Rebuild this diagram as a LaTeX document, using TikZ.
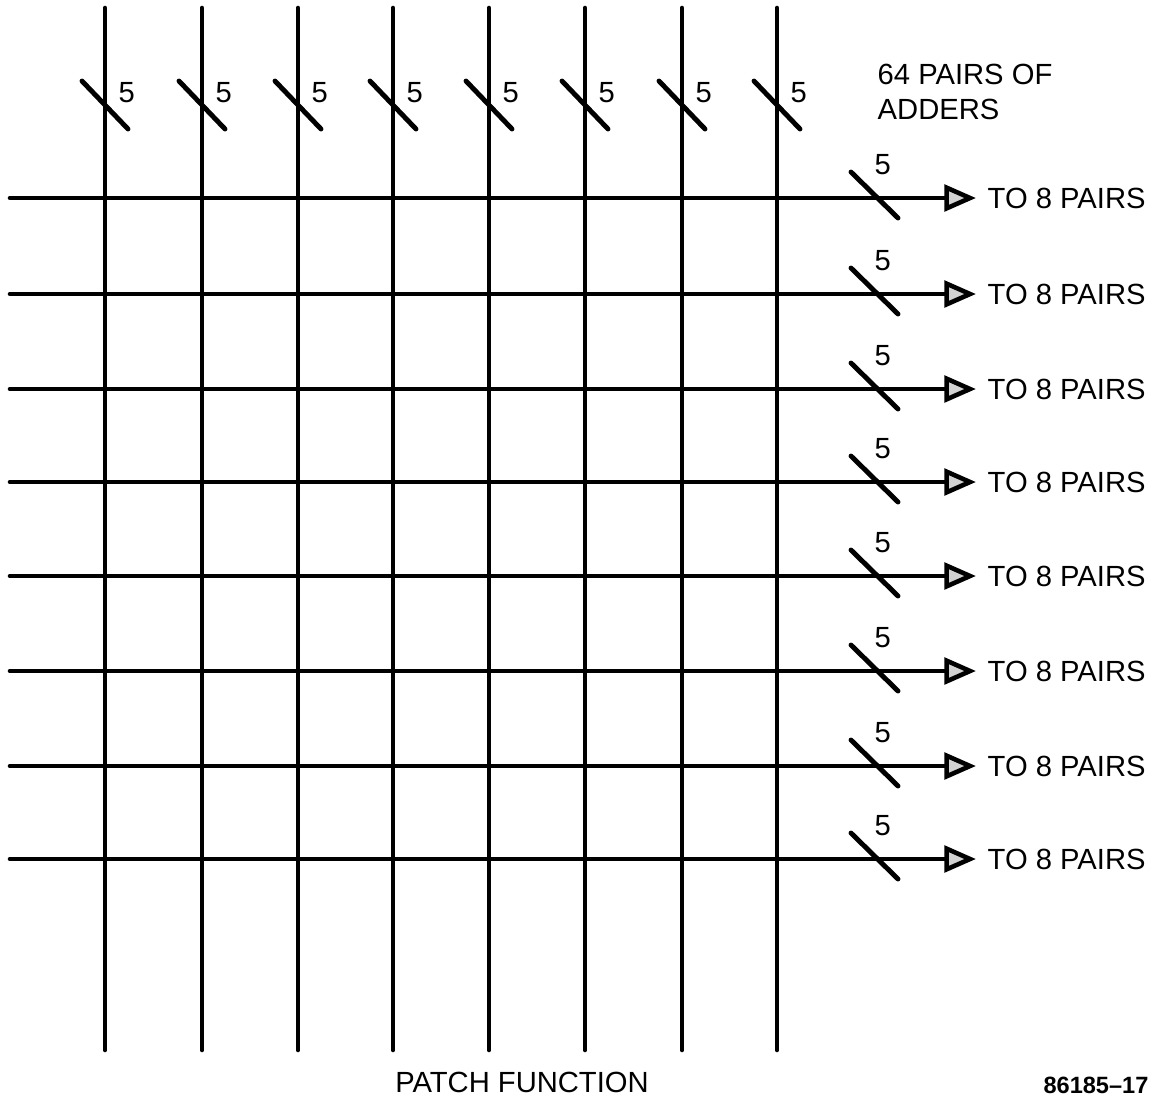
\documentclass[tikz,border=0pt]{standalone}
\usepackage{fontspec}
\setmainfont{Liberation Sans}
\usetikzlibrary{arrows.meta}

\begin{document}
\begin{tikzpicture}[x=0.01cm, y=-0.01cm,
  wire/.style={line width=1.3pt, line cap=round},
  tick/.style={line width=1.4pt, line cap=round},
  lbl/.style={font=\fontsize{8.3}{10}\selectfont, inner sep=0pt},
  arr/.style={wire, -{Triangle[length=9pt, width=7.5pt, fill=gray!35]},
              shorten >=1.1mm}
]
  \useasboundingbox (0,0) rectangle (1157,1099);

  % vertical lines, 5 wires each
  \foreach \x [count=\i] in {105,202,298,393,489,585,682,777} {
    \coordinate (vt\i) at (\x,8);
    \coordinate (vb\i) at (\x,1050);
    \draw[wire] (vt\i) -- (vb\i);
    \draw[tick] (\x-23,81) -- (\x+23,129);
    \node[lbl, anchor=west] (vn\i) at (\x+13,93) {5};
  }

  % horizontal lines to the adder pairs
  \foreach \y [count=\i] in {198,294,389,482,576,671,766,859} {
    \coordinate (h\i) at (10,\y);
    \node[lbl, anchor=west] (out\i) at (987,\y) {TO 8 PAIRS};
    \draw[arr] (h\i) -- (out\i.west);
    \draw[tick] (851,\y-26) -- (898,\y+20);
    \node[lbl, anchor=west] (hn\i) at (874,\y-33) {5};
  }

  \node[lbl, anchor=west, align=left] (adders) at (877,92) {64 PAIRS OF\\ADDERS};
  \node[lbl] (patch) at (522,1082) {PATCH FUNCTION};
  \node[lbl, font=\fontsize{6.7}{8}\selectfont\bfseries] (fig) at (1096,1085) {86185--17};
\end{tikzpicture}
\end{document}
